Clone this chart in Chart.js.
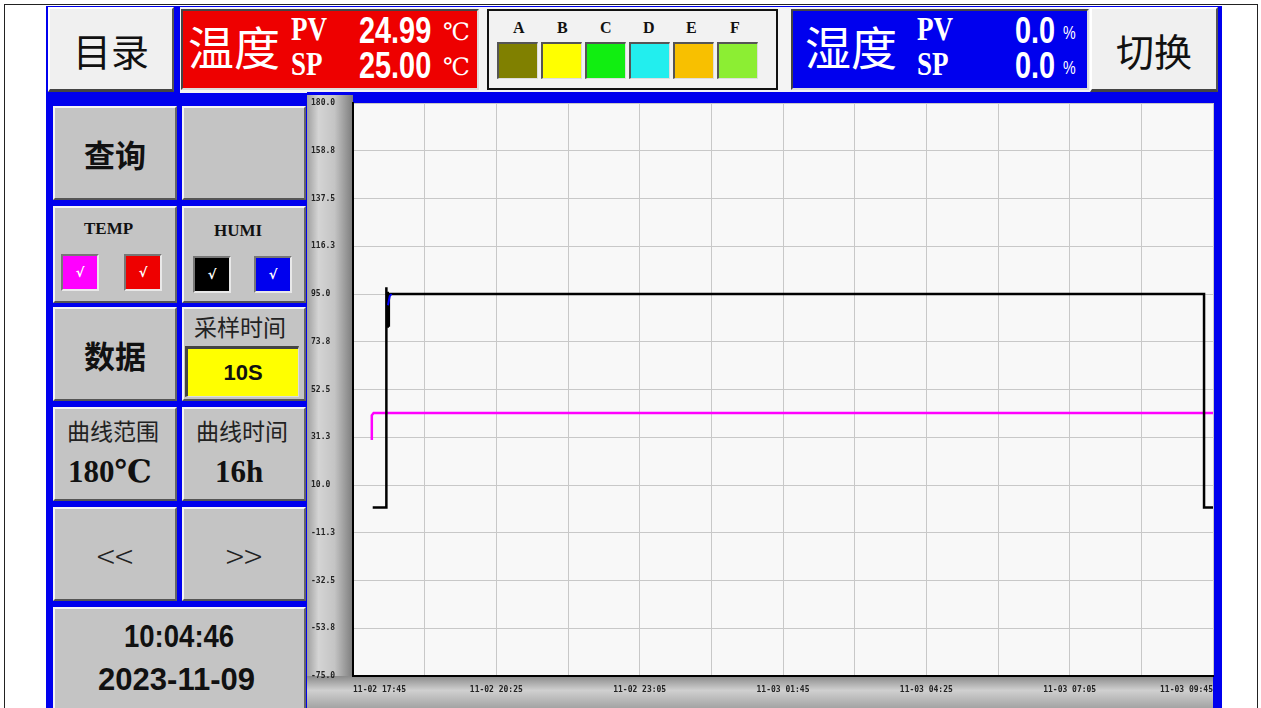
<!DOCTYPE html>
<html>
<head>
<meta charset="utf-8">
<script src="https://cdn.jsdelivr.net/npm/chart.js@4"></script>
<style>
  html,body{margin:0;padding:0;background:#fff;width:1261px;height:708px;overflow:hidden;}
  .abs{position:absolute;box-sizing:border-box;}
  .frame{left:4px;top:4px;width:1254px;height:720px;border:1px solid #222;}
  .hmi{left:46px;top:6px;width:1176px;height:710px;background:#0000ee;}
  .topbg{left:180px;top:7px;width:910px;height:86px;background:#f4f4f4;}
  .btnL{background:#f0f0f0;border-top:2px solid #fff;border-left:2px solid #fff;border-right:2px solid #555;border-bottom:3px solid #444;display:flex;align-items:center;justify-content:center;}
  .btnG{background:#c4c4c4;border-top:2px solid #f4f4f4;border-left:2px solid #f4f4f4;border-right:2px solid #666;border-bottom:2px solid #555;}
  .cjk{font-family:"Noto Sans CJK SC",sans-serif;}
  .t{position:absolute;white-space:nowrap;line-height:1;}
  .center{display:flex;align-items:center;justify-content:center;}
  .narrow{font-family:"Liberation Sans",sans-serif;}
  .serif{font-family:"Liberation Serif","DejaVu Serif",serif;}
  .sw{position:absolute;top:42px;height:37px;border-top:2px solid #555;border-left:2px solid #555;border-right:1px solid #ddd;border-bottom:1px solid #ddd;box-sizing:border-box;}
  .chk{position:absolute;width:38px;height:37px;box-sizing:border-box;border:2px solid #e8e8e8;border-top-color:#777;border-left-color:#777;color:#fff;font:bold 13px "DejaVu Sans",sans-serif;display:flex;align-items:center;justify-content:center;}
  .pvsp{font-size:33px;font-weight:700;color:#fff;transform:scaleX(0.82);transform-origin:left;}
  .num{font-size:37px;font-weight:700;color:#fff;transform:scaleX(0.78);transform-origin:left;}
</style>
</head>
<body>
<div class="abs frame"></div>
<div class="abs hmi"></div>
<div class="abs topbg"></div>

<!-- 目录 -->
<div class="abs btnL cjk" style="left:48px;top:7px;width:126px;height:85px;font-size:38px;color:#111;">目录</div>
<!-- 温度 box -->
<div class="abs" style="left:181px;top:9px;width:298px;height:81px;background:#ee0000;border:2px solid #444;border-right-color:#ddd;border-bottom-color:#ddd;"></div>
<div class="t cjk" style="left:188px;top:22px;font-size:46px;color:#fff;">温度</div>
<div class="t serif pvsp" style="left:291px;top:13px;">PV</div>
<div class="t serif pvsp" style="left:291px;top:48px;">SP</div>
<div class="t narrow num" style="left:359px;top:12px;">24.99</div>
<div class="t narrow num" style="left:359px;top:47px;">25.00</div>
<div class="t serif" style="left:443px;top:20px;font-size:24px;color:#fff;">℃</div>
<div class="t serif" style="left:443px;top:55px;font-size:24px;color:#fff;">℃</div>

<!-- legend box -->
<div class="abs" style="left:487px;top:9px;width:291px;height:81px;background:#f2f2f2;border:2px solid #111;"></div>
<div id="legendLetters"></div>

<!-- 湿度 box -->
<div class="abs" style="left:791px;top:9px;width:298px;height:81px;background:#0000ee;border:2px solid #444;border-right-color:#ddd;border-bottom-color:#ddd;"></div>
<div class="t cjk" style="left:805px;top:22px;font-size:46px;color:#fff;">湿度</div>
<div class="t serif pvsp" style="left:917px;top:13px;">PV</div>
<div class="t serif pvsp" style="left:917px;top:48px;">SP</div>
<div class="t narrow num" style="left:1015px;top:12px;">0.0</div>
<div class="t narrow num" style="left:1015px;top:47px;">0.0</div>
<div class="t narrow" style="left:1063px;top:23px;font-size:19px;color:#fff;transform:scaleX(0.75);transform-origin:left;">%</div>
<div class="t narrow" style="left:1063px;top:58px;font-size:19px;color:#fff;transform:scaleX(0.75);transform-origin:left;">%</div>

<!-- 切换 -->
<div class="abs btnL cjk" style="left:1090px;top:7px;width:128px;height:85px;font-size:38px;color:#111;">切换</div>

<!-- left panel -->
<div class="abs btnG center cjk" style="left:53px;top:106px;width:124px;height:94px;font-size:31px;font-weight:700;color:#111;">查询</div>
<div class="abs btnG" style="left:182px;top:106px;width:124px;height:94px;"></div>

<div class="abs btnG" style="left:53px;top:206px;width:124px;height:97px;"></div>
<div class="t serif" style="left:84px;top:220px;font-size:17px;font-weight:700;color:#111;">TEMP</div>
<div class="chk" style="left:61px;top:254px;background:#ff00ff;">√</div>
<div class="chk" style="left:124px;top:254px;background:#ee0000;">√</div>
<div class="abs btnG" style="left:182px;top:206px;width:124px;height:97px;"></div>
<div class="t serif" style="left:214px;top:222px;font-size:17px;font-weight:700;color:#111;">HUMI</div>
<div class="chk" style="left:193px;top:256px;background:#000;">√</div>
<div class="chk" style="left:254px;top:256px;background:#0000ee;">√</div>

<div class="abs btnG center cjk" style="left:53px;top:307px;width:124px;height:94px;font-size:31px;font-weight:700;color:#111;">数据</div>
<div class="abs btnG" style="left:182px;top:307px;width:124px;height:94px;"></div>
<div class="t cjk" style="left:194px;top:315px;font-size:23px;color:#222;">采样时间</div>
<div class="abs center" style="left:185px;top:346px;width:114px;height:51px;background:#ffff00;border-top:3px solid #444;border-left:3px solid #444;border-right:1px solid #ddd;border-bottom:1px solid #ddd;font:bold 22px 'Liberation Sans',sans-serif;color:#111;">10S</div>

<div class="abs btnG" style="left:53px;top:407px;width:124px;height:94px;"></div>
<div class="t cjk" style="left:67px;top:419px;font-size:23px;color:#222;">曲线范围</div>
<div class="t serif" style="left:68px;top:456px;font-size:31px;font-weight:700;color:#111;">180℃</div>
<div class="abs btnG" style="left:182px;top:407px;width:124px;height:94px;"></div>
<div class="t cjk" style="left:196px;top:419px;font-size:23px;color:#222;">曲线时间</div>
<div class="t serif" style="left:215px;top:456px;font-size:31px;font-weight:700;color:#111;">16h</div>

<div class="abs btnG center" style="left:53px;top:507px;width:124px;height:94px;font:300 34px 'Noto Sans CJK SC',sans-serif;color:#222;">&lt;&lt;</div>
<div class="abs btnG center" style="left:182px;top:507px;width:124px;height:94px;font:300 34px 'Noto Sans CJK SC',sans-serif;color:#222;">&gt;&gt;</div>

<div class="abs btnG" style="left:53px;top:607px;width:253px;height:110px;"></div>
<div class="t narrow" style="left:124px;top:620px;font-size:32px;font-weight:700;color:#111;transform:scaleX(0.86);transform-origin:left;">10:04:46</div>
<div class="t narrow" style="left:98px;top:663px;font-size:32px;font-weight:700;color:#111;transform:scaleX(0.97);transform-origin:left;">2023-11-09</div>

<canvas id="c" class="abs" width="915" height="616" style="left:307px;top:92px;width:915px;height:616px;"></canvas>

<script>
// ---- data ----
const legendKeys = ['A','B','C','D','E','F'];
const legendColors = ['#808000','#ffff00','#11ee11','#22eeee','#f8c000','#8cee33'];

const yTickValues = [180, 158.75, 137.5, 116.25, 95, 73.75, 52.5, 31.25, 10, -11.25, -32.5, -53.75, -75];
const yTickLabels = ['180.0','158.8','137.5','116.3','95.0','73.8','52.5','31.3','10.0','-11.3','-32.5','-53.8','-75.0'];

const xTickMinutes = [0, 80, 160, 240, 320, 400, 480, 560, 640, 720, 800, 880, 960];
const xTickLabels = ['11-02 17:45','','11-02 20:25','','11-02 23:05','','11-03 01:45','','11-03 04:25','','11-03 07:05','','11-03 09:45'];

// minutes from 11-02 17:45
const tempTime  = [21, 21, 23, 960];
const tempValue = [30, 41, 42, 42];

const humiTime  = [22, 37, 37, 37.5, 38, 38.5, 39, 39.5, 40, 41, 950, 950, 960];
const humiValue = [0, 0, 98, 79, 96, 80, 95, 81, 95, 95, 95, 0, 0];

const humiSpTime  = [39, 41, 43];
const humiSpValue = [90, 94, 95];

// ---- legend swatches ----
const letterX = [519, 563, 606, 649, 692, 736];
const swX = [497, 541, 585, 629, 673, 717];
const lg = document.getElementById('legendLetters');
legendKeys.forEach((k, i) => {
  const t = document.createElement('div');
  t.className = 't serif';
  t.style.cssText = `left:${letterX[i]-6}px;top:20px;font-size:16px;font-weight:700;color:#111;`;
  t.textContent = k;
  lg.appendChild(t);
  const s = document.createElement('div');
  s.className = 'sw';
  s.style.left = swX[i] + 'px';
  s.style.width = '41px';
  s.style.background = legendColors[i];
  lg.appendChild(s);
});

const pts = (xs, ys) => xs.map((x, i) => ({x: x, y: ys[i]}));

const bgPlugin = {
  id: 'hmiBg',
  beforeDraw(chart) {
    const ctx = chart.ctx, a = chart.chartArea;
    const W = chart.width, H = chart.height;
    ctx.save();
    ctx.fillStyle = '#0000ee';
    ctx.fillRect(0, 0, W, H);
    let g = ctx.createLinearGradient(0, 0, a.left, 0);
    g.addColorStop(0, '#a0a0a0');
    g.addColorStop(0.25, '#d4d4d4');
    g.addColorStop(0.6, '#c4c4c4');
    g.addColorStop(1, '#7c7c7c');
    ctx.fillStyle = g;
    ctx.fillRect(0, 3, a.left, H - 3);
    g = ctx.createLinearGradient(0, a.bottom, 0, H);
    g.addColorStop(0, '#8a8a8a');
    g.addColorStop(0.45, '#d0d0d0');
    g.addColorStop(1, '#a4a4a4');
    ctx.fillStyle = g;
    ctx.fillRect(0, a.bottom, a.right, H - a.bottom);
    ctx.fillStyle = '#f8f8f8';
    ctx.fillRect(a.left, a.top, a.right - a.left, a.bottom - a.top);
    ctx.restore();
  }
};

new Chart(document.getElementById('c'), {
  type: 'line',
  data: {
    datasets: [
      {data: pts(tempTime, tempValue), borderColor: '#ff00ff', borderWidth: 2.5, pointRadius: 0, tension: 0, order: 2},
      {data: pts(humiTime, humiValue), borderColor: '#000000', borderWidth: 2.5, pointRadius: 0, tension: 0, order: 1},
      {data: pts(humiSpTime, humiSpValue), borderColor: '#0000ff', borderWidth: 2, pointRadius: 0, tension: 0, order: 0}
    ]
  },
  options: {
    responsive: false,
    animation: false,
    events: [],
    layout: {padding: {left: 4, top: 11, right: 9, bottom: 0}},
    plugins: {legend: {display: false}, tooltip: {enabled: false}},
    scales: {
      x: {
        type: 'linear', min: 0, max: 960,
        afterBuildTicks: s => { s.ticks = xTickMinutes.map(v => ({value: v})); },
        afterFit: s => { s.height = 32; },
        grid: {color: '#c8c8c8', lineWidth: 1, drawTicks: false},
        border: {display: true, color: '#000', width: 2},
        ticks: {
          autoSkip: false, maxRotation: 0, align: 'inner', padding: 9,
          color: '#222', font: {family: 'DejaVu Sans Mono', size: 8, weight: 'bold'},
          callback: (v, i) => xTickLabels[i]
        }
      },
      y: {
        type: 'linear', min: -75, max: 180,
        afterBuildTicks: s => { s.ticks = yTickValues.map(v => ({value: v})); },
        afterFit: s => { s.width = 42; },
        grid: {color: '#c8c8c8', lineWidth: 1, drawTicks: false},
        border: {display: true, color: '#000', width: 2},
        ticks: {
          crossAlign: 'far', padding: 0,
          color: '#222', font: {family: 'DejaVu Sans Mono', size: 8, weight: 'bold'},
          callback: (v, i) => yTickLabels[i]
        }
      }
    }
  },
  plugins: [bgPlugin]
});
</script>
</body>
</html>
